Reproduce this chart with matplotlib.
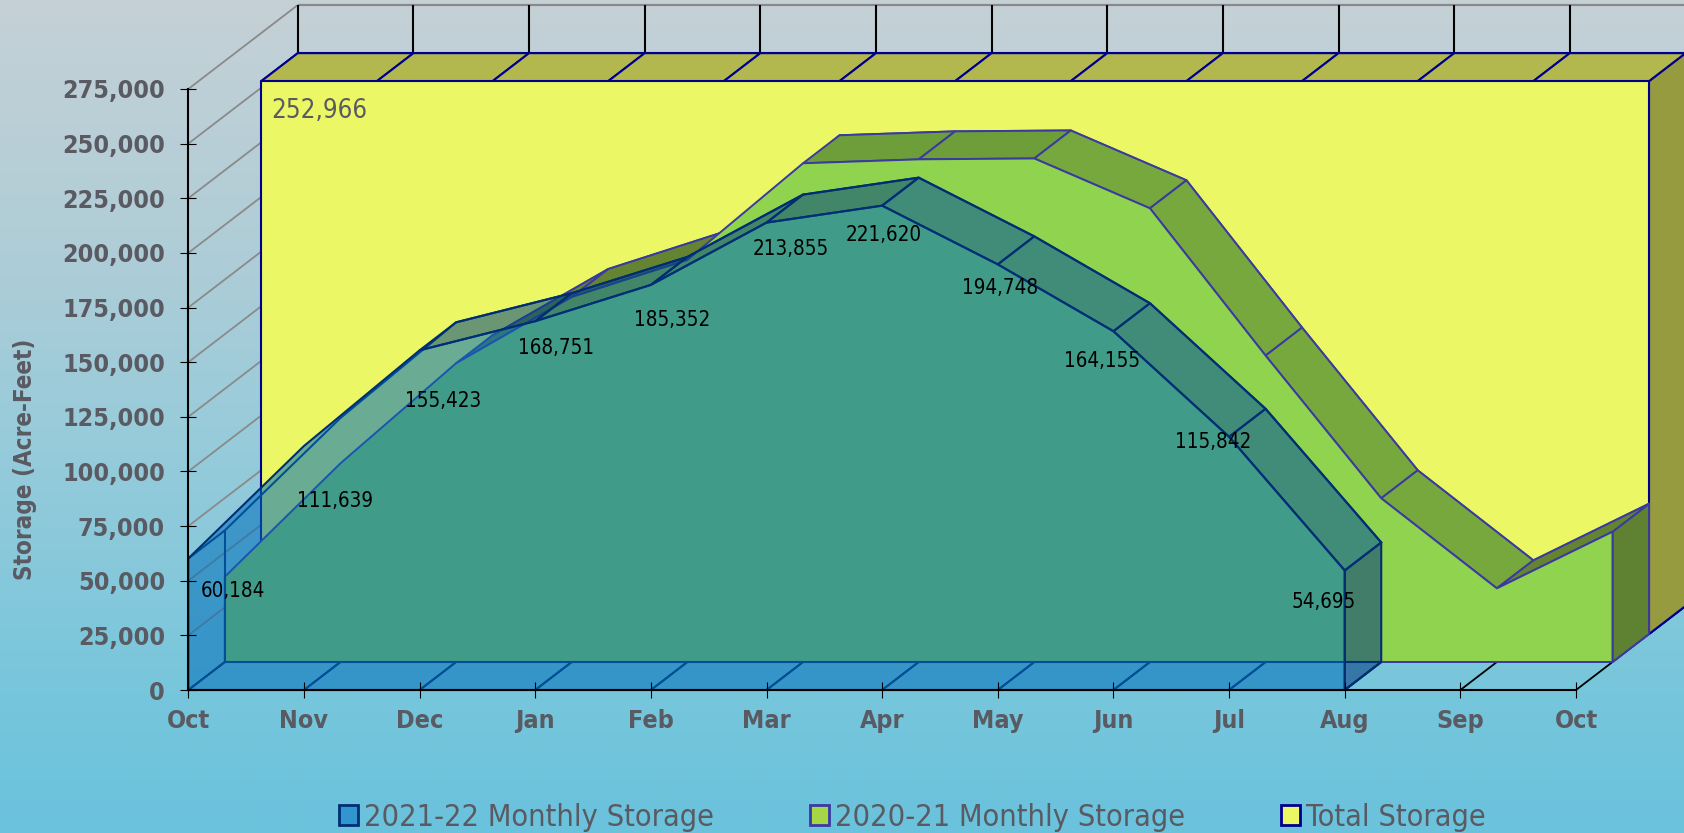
import numpy as np
import matplotlib
matplotlib.use('Agg')
import matplotlib.pyplot as plt
from matplotlib.patches import Patch

### Data
months = ['Oct', 'Nov', 'Dec', 'Jan', 'Feb', 'Mar', 'Apr', 'May', 'Jun', 'Jul', 'Aug', 'Sep', 'Oct']
storage_2122 = [60184, 111639, 155423, 168751, 185352, 213855, 221620, 194748, 164155, 115842, 54695]
storage_2021 = [39000, 90900, 136700, 167000, 184000, 228200, 230000, 230400, 207600, 140200, 74900, 33700, 59600]
total_storage = [252966] * 13
y_ticks = list(range(0, 275001, 25000))

# label offsets from the vertex of the 2021-22 series, pixels
label_offsets = [(45, -33), (31, -55), (24, -51), (21, -27), (21, -35), (24, -26),
                 (2, -29), (2, -24), (-11, -30), (-16, -5), (-21, -32)]

W, H = 1684, 833
X0, X1 = 188.3, 1576.0     # pixel limits of the axes
Y0, Y1 = 690.0, 89.0
DX = 36.5 / ((X1 - X0) / 12)          # one layer of depth, in months
DY = 28.0 / ((Y0 - Y1) / 275000)      # one layer of depth, in acre-feet
# top face is only seen when the line climbs slower than the depth direction
CULL_RISE = DY / DX

TEXT_GREY = '#5A5A62'
BLUE = (0, 109 / 255, 186 / 255, 0.55)

fig = plt.figure(figsize=(W / 100, H / 100), dpi=100)

### Background gradient
bg = fig.add_axes([0, 0, 1, 1], zorder=-1)
rows = np.arange(H)
stops_y = [0, 250, 450, 700, 833]
gradient = np.stack([np.interp(rows, stops_y, [197, 175, 150, 118, 106]),
                     np.interp(rows, stops_y, [209, 205, 203, 198, 194]),
                     np.interp(rows, stops_y, [214, 215, 218, 220, 220])], axis=1)[:, None, :] / 255
bg.imshow(gradient, aspect='auto', extent=(0, 1, 0, 1))
bg.axis('off')

ax = fig.add_axes([X0 / W, 1 - Y0 / H, (X1 - X0) / W, (Y0 - Y1) / H])
ax.patch.set_visible(False)
ax.set_xlim(0, 12)
ax.set_ylim(0, 275000)


def pr(i, v, depth):
    return i + depth * DX, v + depth * DY


def line(i0, v0, d0, i1, v1, d1, color, lw):
    x0, y0 = pr(i0, v0, d0)
    x1, y1 = pr(i1, v1, d1)
    ax.plot([x0, x1], [y0, y1], color=color, lw=lw, zorder=1, clip_on=False, solid_capstyle='butt')


def face(xs, ys, fc, edge, lw):
    ax.fill(xs, ys, facecolor=fc, edgecolor=edge, linewidth=lw, zorder=1, clip_on=False, joinstyle='round')


def draw_layer(values, depth, front, rising, flat, falling, side, edge, lw):
    v = np.array(values, dtype=float)
    idx = np.arange(len(v))
    # edges of the hidden faces
    bx, by = pr(idx, v, depth + 1)
    ax.plot(bx, by, color=edge, lw=lw, zorder=1, clip_on=False)
    line(idx[0], 0, depth + 1, idx[-1], 0, depth + 1, edge, lw)
    line(idx[0], 0, depth + 1, idx[0], v[0], depth + 1, edge, lw)
    line(idx[0], v[0], depth, idx[0], v[0], depth + 1, edge, lw)
    for i in idx:
        line(i, 0, depth, i, 0, depth + 1, edge, lw)
    # right end
    fx, fy = pr(idx[-1], np.array([0, v[-1], v[-1], 0]), np.array([depth, depth, depth + 1, depth + 1]))
    face(fx, fy, side, edge, lw)
    # top faces, one per month
    for i in idx[:-1]:
        rise = v[i + 1] - v[i]
        a, b = pr(np.array([i, i + 1, i + 1, i]), np.array([v[i], v[i + 1], v[i + 1], v[i]]),
                  np.array([depth, depth, depth + 1, depth + 1]))
        if rise >= CULL_RISE:
            continue
        fc = rising if rise > 5000 else (falling if rise < -5000 else flat)
        face(a, b, fc, edge, lw)
    # front face
    fx, fy = pr(np.r_[idx[0], idx, idx[-1]], np.r_[0, v, 0], depth)
    face(fx, fy, front, edge, lw)


### Back wall and floor
grid = '#8A8A8A'
for val in y_ticks:
    line(0, val, 0, 0, val, 3, grid, 1.3)
line(0, 275000, 3, 12, 275000, 3, grid, 1.6)
for i in range(13):
    line(i, 0, 3, i, 275000, 3, 'black', 1.5)
    line(i, 0, 0, i, 0, 3, 'black', 1.3)

### Layers, back to front
draw_layer(total_storage, 2, '#ECF765', '#B3B84E', '#B3B84E', '#B3B84E', '#979B40', '#00008F', 1.5)
draw_layer(storage_2021, 1, '#90D34F', '#648432', '#6E9E3A', '#76A83E', '#5F8232', '#3A3AA0', 1.4)
draw_layer(storage_2122, 0, BLUE, (0, 71 / 255, 127 / 255, 0.55), (0, 76 / 255, 140 / 255, 0.55),
           (0, 82 / 255, 154 / 255, 0.55), (0, 55 / 255, 125 / 255, 0.55), '#002E73', 1.5)

### Value labels
for i, val in enumerate(storage_2122):
    ax.annotate(f'{val:,}', xy=(i, val), xytext=label_offsets[i], textcoords='offset pixels',
                ha='center', va='center', color='black', fontsize=14.8, fontstretch='condensed',
                annotation_clip=False, zorder=5)
tx, ty = pr(0, total_storage[0], 2)
ax.annotate(f'{total_storage[0]:,}', xy=(tx, ty), xytext=(58, -30), textcoords='offset pixels',
            ha='center', va='center', color=TEXT_GREY, fontsize=18.5, fontstretch='condensed',
            annotation_clip=False, zorder=5)

### Axes
ax.spines['top'].set_visible(False)
ax.spines['right'].set_visible(False)
ax.spines['left'].set_linewidth(1.5)
ax.spines['bottom'].set_linewidth(1.5)
ax.set_xticks(range(13))
ax.set_xticklabels(months, fontsize=18, fontweight='bold', fontstretch='condensed', color=TEXT_GREY)
ax.set_yticks(y_ticks)
ax.set_yticklabels([f'{t:,}' for t in y_ticks], fontsize=18, fontweight='bold', fontstretch='condensed', color=TEXT_GREY)
ax.tick_params(axis='both', direction='inout', length=11.5, width=0.8, color='black')
ax.tick_params(axis='x', pad=8)
ax.tick_params(axis='y', pad=11)
ax.set_ylabel('Storage (Acre-Feet)', fontsize=17.4, fontweight='bold', fontstretch='condensed', color=TEXT_GREY)
ax.yaxis.set_label_coords((37 - X0) / (X1 - X0), (Y0 - 459) / (Y0 - Y1))

### Legend
handles = [Patch(facecolor='#2F96D0', edgecolor='#002E73', linewidth=2),
           Patch(facecolor='#A5D646', edgecolor='#3A3AA0', linewidth=2),
           Patch(facecolor='#ECF765', edgecolor='#00008F', linewidth=2)]
fig.legend(handles, ['2021-22 Monthly Storage', '2020-21 Monthly Storage', 'Total Storage'],
           loc='lower left', bbox_to_anchor=(336 / W, -2 / H), ncol=3, frameon=False,
           prop={'size': 22, 'stretch': 'condensed'}, labelcolor=TEXT_GREY, handlelength=0.62, handleheight=0.62,
           handletextpad=0.2, columnspacing=3.14, borderpad=0.1, borderaxespad=0)

fig.savefig('out.png', dpi=100)
